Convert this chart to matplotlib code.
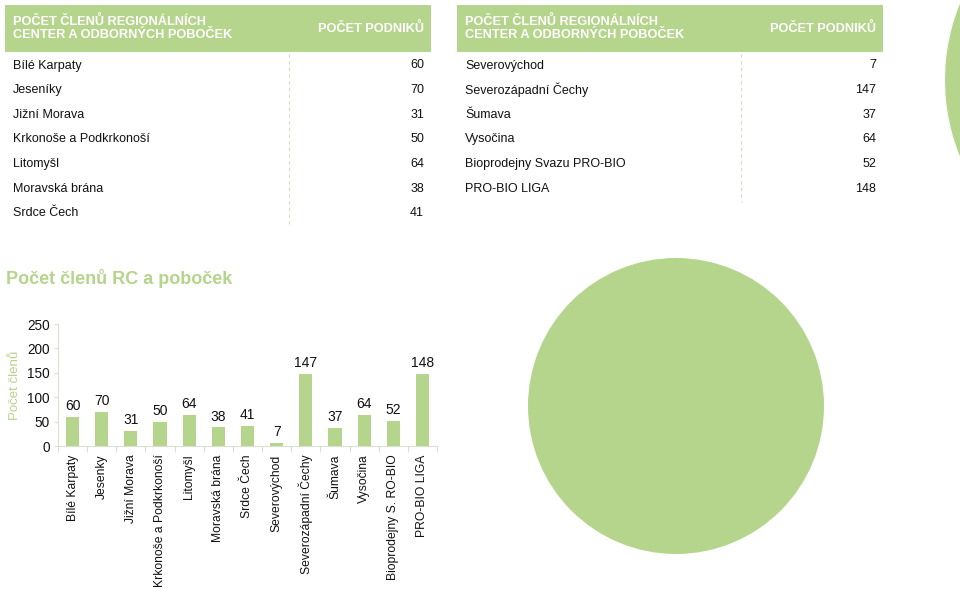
import matplotlib
matplotlib.use("Agg")
import matplotlib.pyplot as plt
from matplotlib.patches import Rectangle, Circle

plt.rcParams['font.family'] = ['Liberation Sans', 'DejaVu Sans']

# table data
header_left = "POČET ČLENŮ REGIONÁLNÍCH\nCENTER A ODBORNÝCH POBOČEK"
header_right = "POČET PODNIKŮ"
names_1 = ["Bílé Karpaty", "Jeseníky", "Jižní Morava", "Krkonoše a Podkrkonoší",
           "Litomyšl", "Moravská brána", "Srdce Čech"]
values_1 = [60, 70, 31, 50, 64, 38, 41]
names_2 = ["Severovýchod", "Severozápadní Čechy", "Šumava", "Vysočina",
           "Bioprodejny Svazu PRO-BIO", "PRO-BIO LIGA"]
values_2 = [7, 147, 37, 64, 52, 148]

# bar chart data
chart_title = "Počet členů RC a poboček"
bar_labels = ["Bílé Karpaty", "Jesenky", "Jižní Morava", "Krkonoše a Podkrkonoší",
              "Litomyšl", "Moravská brána", "Srdce Čech", "Severovýchod",
              "Severozápadní Čechy", "Šumava", "Vysočina", "Bioprodejny S. RO-BIO",
              "PRO-BIO LIGA"]
bar_values = values_1 + values_2
y_ticks = [0, 50, 100, 150, 200, 250]

GREEN = "#b5d48c"
W, H = 960, 589

fig = plt.figure(figsize=(W / 100, H / 100), dpi=100)

# overlay in pixel coordinates
bg = fig.add_axes([0, 0, 1, 1])
bg.set_xlim(0, W)
bg.set_ylim(H, 0)
bg.axis('off')


def draw_table(x0, x1, xdash, names, values, dash_end):
    bg.add_patch(Rectangle((x0, 5), x1 - x0, 47, color=GREEN, lw=0))
    bg.text(x0 + 8, 28, header_left, color='white', fontsize=9.2,
            fontweight='bold', va='center', ha='left', linespacing=1.1)
    bg.text(x1 - 7, 28, header_right, color='white', fontsize=9.2,
            fontweight='bold', va='center', ha='right')
    for i, (n, v) in enumerate(zip(names, values)):
        y = 65.5 + i * 24.6
        bg.text(x0 + 8, y, n, fontsize=9.0, va='center', ha='left', color='#111111')
        bg.text(x1 - 7, y, str(v), fontsize=9.0, va='center', ha='right', color='#111111')
    bg.plot([xdash, xdash], [54, dash_end], color='#e0d6c2', lw=0.8,
            linestyle=(0, (3, 3)))


draw_table(5, 431, 289, names_1, values_1, 226)
draw_table(457, 883, 741, names_2, values_2, 202)

# decorative circles
bg.add_patch(Circle((676, 406), 148, color=GREEN, lw=0))
bg.add_patch(Circle((1147, 80), 202, color=GREEN, lw=0))

bg.text(6, 279, chart_title, color=GREEN, fontsize=13, fontweight='bold',
        va='center', ha='left')

# bar chart
ax = fig.add_axes([58 / W, (H - 446) / H, (437 - 58) / W, 122 / H])
ax.patch.set_alpha(0)
x = range(len(bar_values))
ax.bar(x, bar_values, width=0.45, color=GREEN, zorder=2)
for xi, v in zip(x, bar_values):
    ax.text(xi, v + 8, str(v), ha='center', va='bottom', fontsize=10, color='#111111')
ax.set_xlim(-0.48, len(bar_values) - 0.5)
ax.set_ylim(0, 250)
ax.set_yticks(y_ticks)
ax.set_yticklabels([str(t) for t in y_ticks], fontsize=9.8, color='#111111')
ax.set_xticks(list(x))
ax.set_xticklabels(bar_labels, rotation=90, fontsize=8.7, color='#111111')
ax.set_xticks([i + 0.5 for i in range(-1, len(bar_values))], minor=True)
ax.tick_params(axis='x', which='major', length=0, pad=6)
ax.tick_params(axis='x', which='minor', length=4, color='#d8e2cc', width=0.8)
ax.tick_params(axis='y', length=3, color='#d8e2cc', width=0.8, pad=3)
for s in ['top', 'right']:
    ax.spines[s].set_visible(False)
for s in ['left', 'bottom']:
    ax.spines[s].set_color('#d8e2cc')
    ax.spines[s].set_linewidth(0.8)
ax.set_ylabel("Počet členů", color=GREEN, fontsize=9.5, labelpad=4)

fig.savefig("out.png", dpi=100)
